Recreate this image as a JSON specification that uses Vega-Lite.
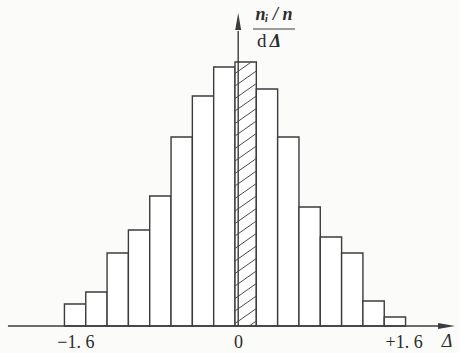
{
  "$schema": "https://vega.github.io/schema/vega-lite/v6.json",
  "width": 459,
  "height": 326,
  "autosize": "none",
  "padding": {"left": 0, "right": 0, "top": 0, "bottom": 27},
  "background": "#fbfbfa",
  "config": {"view": {"stroke": null}},
  "datasets": {
    "bins": [
      {"lo": -1.6, "hi": -1.4, "density": 0.22},
      {"lo": -1.4, "hi": -1.2, "density": 0.34},
      {"lo": -1.2, "hi": -1.0, "density": 0.73},
      {"lo": -1.0, "hi": -0.8, "density": 0.96},
      {"lo": -0.8, "hi": -0.6, "density": 1.30},
      {"lo": -0.6, "hi": -0.4, "density": 1.89},
      {"lo": -0.4, "hi": -0.2, "density": 2.30},
      {"lo": -0.2, "hi": 0.0, "density": 2.59},
      {"lo": 0.0, "hi": 0.2, "density": 2.64},
      {"lo": 0.2, "hi": 0.4, "density": 2.37},
      {"lo": 0.4, "hi": 0.6, "density": 1.89},
      {"lo": 0.6, "hi": 0.8, "density": 1.19},
      {"lo": 0.8, "hi": 1.0, "density": 0.89},
      {"lo": 1.0, "hi": 1.2, "density": 0.73},
      {"lo": 1.2, "hi": 1.4, "density": 0.25},
      {"lo": 1.4, "hi": 1.6, "density": 0.09}
    ],
    "hatch": [
      {"x1": 0.133, "y1": 0.0, "x2": 0.2, "y2": 0.05},
      {"x1": 0.0, "y1": 0.025, "x2": 0.2, "y2": 0.175},
      {"x1": 0.0, "y1": 0.15, "x2": 0.2, "y2": 0.30},
      {"x1": 0.0, "y1": 0.275, "x2": 0.2, "y2": 0.425},
      {"x1": 0.0, "y1": 0.40, "x2": 0.2, "y2": 0.55},
      {"x1": 0.0, "y1": 0.525, "x2": 0.2, "y2": 0.675},
      {"x1": 0.0, "y1": 0.65, "x2": 0.2, "y2": 0.80},
      {"x1": 0.0, "y1": 0.775, "x2": 0.2, "y2": 0.925},
      {"x1": 0.0, "y1": 0.90, "x2": 0.2, "y2": 1.05},
      {"x1": 0.0, "y1": 1.025, "x2": 0.2, "y2": 1.175},
      {"x1": 0.0, "y1": 1.15, "x2": 0.2, "y2": 1.30},
      {"x1": 0.0, "y1": 1.275, "x2": 0.2, "y2": 1.425},
      {"x1": 0.0, "y1": 1.40, "x2": 0.2, "y2": 1.55},
      {"x1": 0.0, "y1": 1.525, "x2": 0.2, "y2": 1.675},
      {"x1": 0.0, "y1": 1.65, "x2": 0.2, "y2": 1.80},
      {"x1": 0.0, "y1": 1.775, "x2": 0.2, "y2": 1.925},
      {"x1": 0.0, "y1": 1.90, "x2": 0.2, "y2": 2.05},
      {"x1": 0.0, "y1": 2.025, "x2": 0.2, "y2": 2.175},
      {"x1": 0.0, "y1": 2.15, "x2": 0.2, "y2": 2.30},
      {"x1": 0.0, "y1": 2.275, "x2": 0.2, "y2": 2.425},
      {"x1": 0.0, "y1": 2.40, "x2": 0.2, "y2": 2.55},
      {"x1": 0.0, "y1": 2.525, "x2": 0.153, "y2": 2.64}
    ]
  },
  "layer": [
    {
      "data": {"name": "bins"},
      "mark": {"type": "rect", "fill": "#ffffff", "stroke": "#3c3c3c", "strokeWidth": 1.4},
      "encoding": {
        "x": {"field": "lo", "type": "quantitative", "scale": {"domain": [-2.2045, 2.1013], "nice": false, "zero": false},
          "axis": {"values": [-1.6, 0, 1.6], "labelExpr": "datum.value == -1.6 ? '−1. 6' : datum.value == 0 ? '0' : '+1. 6'",
            "domain": false, "ticks": false, "grid": false, "title": null, "labelFont": "Liberation Serif", "labelFontSize": 18, "labelColor": "#2b2b2b",
            "labelPadding": 7, "labelFlush": false, "labelOverlap": false,
            "labelOffset": {"condition": [{"test": "datum.value == -1.6", "value": 11}, {"test": "datum.value == 0", "value": 3}], "value": -2}}},
        "x2": {"field": "hi"},
        "y": {"field": "density", "type": "quantitative", "scale": {"domain": [0, 3.26], "nice": false, "zero": false}, "axis": null},
        "y2": {"datum": 0}
      }
    },
    {
      "data": {"name": "hatch"},
      "mark": {"type": "rule", "stroke": "#4a4a4a", "strokeWidth": 1},
      "encoding": {
        "x": {"field": "x1", "type": "quantitative", "scale": {"domain": [-2.2045, 2.1013], "nice": false, "zero": false}},
        "x2": {"field": "x2"},
        "y": {"field": "y1", "type": "quantitative", "scale": {"domain": [0, 3.26], "nice": false, "zero": false}},
        "y2": {"field": "y2"}
      }
    },
    {
      "data": {"values": [{}]},
      "mark": {"type": "rule", "stroke": "#3c3c3c", "strokeWidth": 1.4},
      "encoding": {
        "x": {"datum": -2.13, "type": "quantitative", "scale": {"domain": [-2.2045, 2.1013], "nice": false, "zero": false}},
        "x2": {"datum": 1.95},
        "y": {"datum": 0, "type": "quantitative", "scale": {"domain": [0, 3.26], "nice": false, "zero": false}}
      }
    },
    {
      "data": {"values": [{}]},
      "mark": {"type": "rule", "stroke": "#3c3c3c", "strokeWidth": 1.4},
      "encoding": {
        "x": {"datum": 0.03, "type": "quantitative", "scale": {"domain": [-2.2045, 2.1013], "nice": false, "zero": false}},
        "y": {"datum": 0, "type": "quantitative", "scale": {"domain": [0, 3.26], "nice": false, "zero": false}},
        "y2": {"datum": 2.95}
      }
    },
    {
      "data": {"values": [{}]},
      "mark": {"type": "point", "shape": "M1,0L-1,-0.35L-1,0.35Z", "size": 289, "filled": true, "fill": "#3c3c3c", "opacity": 1, "strokeWidth": 0},
      "encoding": {
        "x": {"datum": 1.984, "type": "quantitative", "scale": {"domain": [-2.2045, 2.1013], "nice": false, "zero": false}},
        "y": {"datum": 0, "type": "quantitative", "scale": {"domain": [0, 3.26], "nice": false, "zero": false}}
      }
    },
    {
      "data": {"values": [{}]},
      "mark": {"type": "point", "shape": "M0,-1L0.35,1L-0.35,1Z", "size": 289, "filled": true, "fill": "#3c3c3c", "opacity": 1, "strokeWidth": 0},
      "encoding": {
        "x": {"datum": 0.03, "type": "quantitative", "scale": {"domain": [-2.2045, 2.1013], "nice": false, "zero": false}},
        "y": {"datum": 3.045, "type": "quantitative", "scale": {"domain": [0, 3.26], "nice": false, "zero": false}}
      }
    },
    {
      "data": {"values": [{}]},
      "mark": {"type": "rule", "stroke": "#3c3c3c", "strokeWidth": 1.2},
      "encoding": {
        "x": {"datum": 0.169, "type": "quantitative", "scale": {"domain": [-2.2045, 2.1013], "nice": false, "zero": false}},
        "x2": {"datum": 0.563},
        "y": {"datum": 2.97, "type": "quantitative", "scale": {"domain": [0, 3.26], "nice": false, "zero": false}}
      }
    },
    {
      "data": {"values": [{}]},
      "mark": {"type": "text", "text": "nᵢ / n", "font": "Liberation Serif", "fontStyle": "italic", "fontWeight": "bold", "fontSize": 18, "align": "center", "baseline": "alphabetic", "color": "#2b2b2b"},
      "encoding": {
        "x": {"datum": 0.366, "type": "quantitative", "scale": {"domain": [-2.2045, 2.1013], "nice": false, "zero": false}},
        "y": {"datum": 3.06, "type": "quantitative", "scale": {"domain": [0, 3.26], "nice": false, "zero": false}}
      }
    },
    {
      "data": {"values": [{}]},
      "mark": {"type": "text", "text": "d", "font": "Liberation Serif", "fontSize": 19, "align": "center", "baseline": "alphabetic", "color": "#2b2b2b"},
      "encoding": {
        "x": {"datum": 0.25, "type": "quantitative", "scale": {"domain": [-2.2045, 2.1013], "nice": false, "zero": false}},
        "y": {"datum": 2.79, "type": "quantitative", "scale": {"domain": [0, 3.26], "nice": false, "zero": false}}
      }
    },
    {
      "data": {"values": [{}]},
      "mark": {"type": "text", "text": "Δ", "font": "Liberation Serif", "fontStyle": "italic", "fontWeight": "bold", "fontSize": 18, "align": "center", "baseline": "alphabetic", "color": "#2b2b2b"},
      "encoding": {
        "x": {"datum": 0.38, "type": "quantitative", "scale": {"domain": [-2.2045, 2.1013], "nice": false, "zero": false}},
        "y": {"datum": 2.79, "type": "quantitative", "scale": {"domain": [0, 3.26], "nice": false, "zero": false}}
      }
    },
    {
      "data": {"values": [{}]},
      "mark": {"type": "text", "text": "Δ", "font": "Liberation Serif", "fontStyle": "italic", "fontSize": 18, "align": "center", "baseline": "alphabetic", "color": "#2b2b2b"},
      "encoding": {
        "x": {"datum": 1.99, "type": "quantitative", "scale": {"domain": [-2.2045, 2.1013], "nice": false, "zero": false}},
        "y": {"datum": -0.21, "type": "quantitative", "scale": {"domain": [0, 3.26], "nice": false, "zero": false}}
      }
    }
  ]
}
